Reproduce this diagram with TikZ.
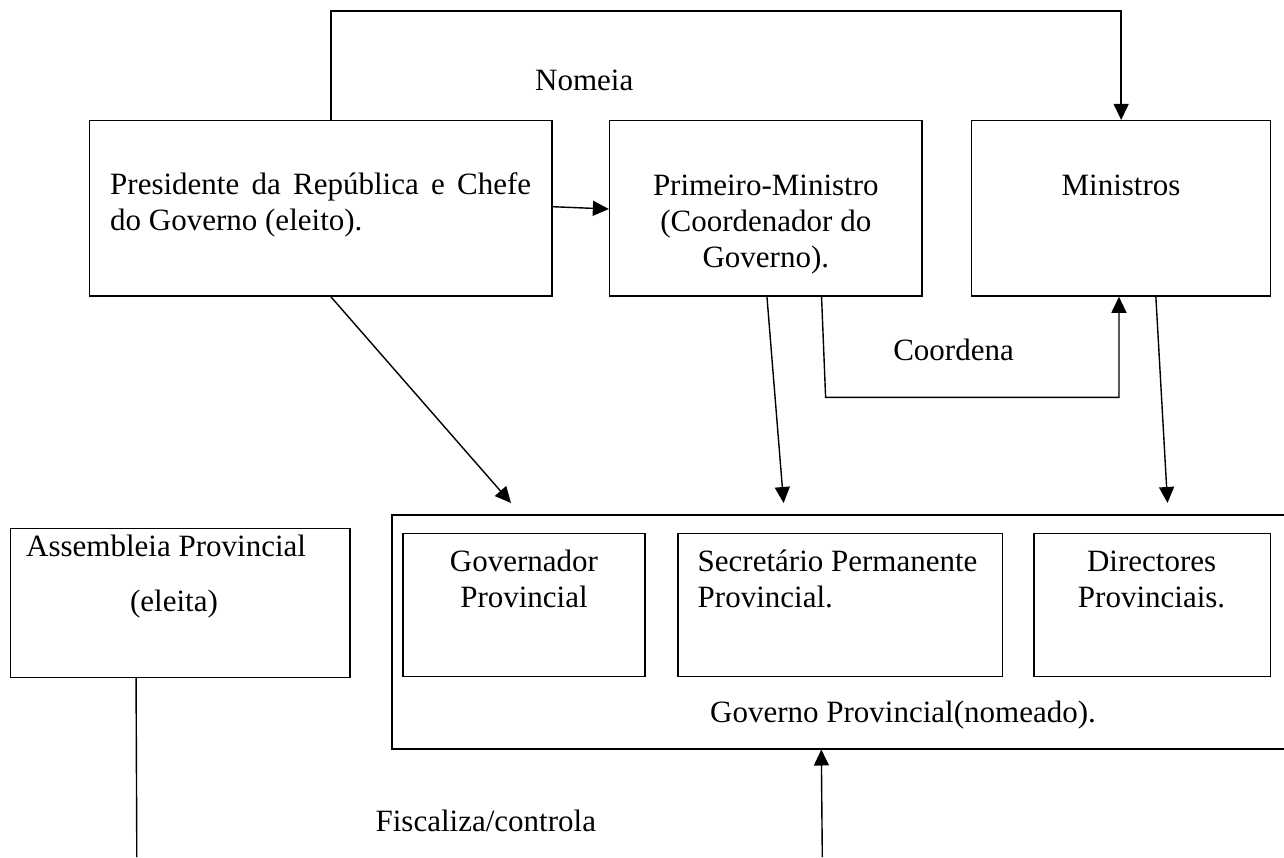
\documentclass[tikz,border=0pt]{standalone}
\usepackage{fontspec}
\setmainfont{Liberation Serif}
\usetikzlibrary{arrows.meta,calc}
\begin{document}
\begin{tikzpicture}[x=1pt,y=-1pt,
  box/.style={draw=black,line width=1.5pt,rectangle,inner sep=0pt},
  bigbox/.style={draw=black,line width=2pt,rectangle,inner sep=0pt},
  conn/.style={draw=black,line width=1.4pt},
  arr/.style={conn,-{Triangle[length=16pt,width=15pt]}},
  lbl/.style={inner sep=0pt,font=\fontsize{31}{36}\selectfont}]
\useasboundingbox (0,0) rectangle (1284,857);
\clip (0,0) rectangle (1284,857);

% boxes
\node[box,minimum width=462.2pt,minimum height=175.3pt] (pres) at (320.7,208.35) {};
\node[box,minimum width=312.4pt,minimum height=175.3pt] (pm) at (765.8,208.35) {};
\node[box,minimum width=298.9pt,minimum height=175.3pt] (min) at (1121.15,208.35) {};
\node[bigbox,minimum width=907.7pt,minimum height=233.5pt] (gov) at (846.15,631.75) {};
\node[box,minimum width=339.7pt,minimum height=149pt] (assemb) at (180.35,602.8) {};
\node[box,minimum width=242.4pt,minimum height=143.4pt] (gvr) at (524,605) {};
\node[box,minimum width=324.8pt,minimum height=143.4pt] (sec) at (840.2,605) {};
\node[box,minimum width=236.2pt,minimum height=143.4pt] (dir) at (1152.3,605) {};

% texts
\node[lbl,anchor=base west] (presT) at (110,194) {\parbox[t]{421pt}{Presidente da República e Chefe\linebreak do Governo (eleito).}};
\node[lbl,anchor=base] (pmT) at (765.8,195) {\parbox[t]{300pt}{\centering Primeiro-Ministro\\(Coordenador do\\Governo).}};
\node[lbl,anchor=base] (minT) at (1121,195) {Ministros};
\node[lbl,anchor=base west] (nomeia) at (535,90.7) {Nomeia};
\node[lbl,anchor=base] (coordena) at (953.5,360) {Coordena};
\node[lbl,anchor=base west] (assembT) at (26,556.7) {Assembleia Provincial};
\node[lbl,anchor=base] (eleita) at (174,611.7) {(eleita)};
\node[lbl,anchor=base] (gvrT) at (524,571.5) {\parbox[t]{240pt}{\centering Governador\\Provincial}};
\node[lbl,anchor=base west] (secT) at (697.5,571) {\parbox[t]{300pt}{\raggedright Secretário Permanente\\Provincial.}};
\node[lbl,anchor=base] (dirT) at (1151.6,571) {\parbox[t]{230pt}{\centering Directores\\Provinciais.}};
\node[lbl,anchor=base] (govT) at (903,722.7) {Governo Provincial(nomeado).};
\node[lbl,anchor=base west] (fisc) at (375.4,831.7) {Fiscaliza/controla};

% connectors
\draw[arr] ($(pres.north west)+(242,0)$) |- ($(min.north)+(0,-109)$) -- (min.north);
\draw[arr] ($(pres.east)+(0,-1.65)$) -- ($(pm.west)+(0,0.65)$);
\draw[arr] ($(pres.south west)+(242,0)$) -- ($(gov.north west)+(119.7,-11)$);
\draw[arr] ($(pm.south west)+(158.1,0)$) -- ($(gov.north west)+(392.3,-11)$);
\coordinate (kA) at (825.6,397.3);
\draw[arr] ($(pm.south west)+(212.7,0)$) -- (kA) -| ($(min.south west)+(148,0)$);
\draw[arr] ($(min.south west)+(184.9,0)$) -- ($(gov.north west)+(776.2,-11)$);
\coordinate (aEnd) at (136.8,857);
\draw[conn] ($(assemb.south west)+(126.3,0)$) -- (aEnd);
\coordinate (fStart) at (822.3,857);
\draw[arr] (fStart) -- ($(gov.south west)+(430,0)$);
\end{tikzpicture}
\end{document}
